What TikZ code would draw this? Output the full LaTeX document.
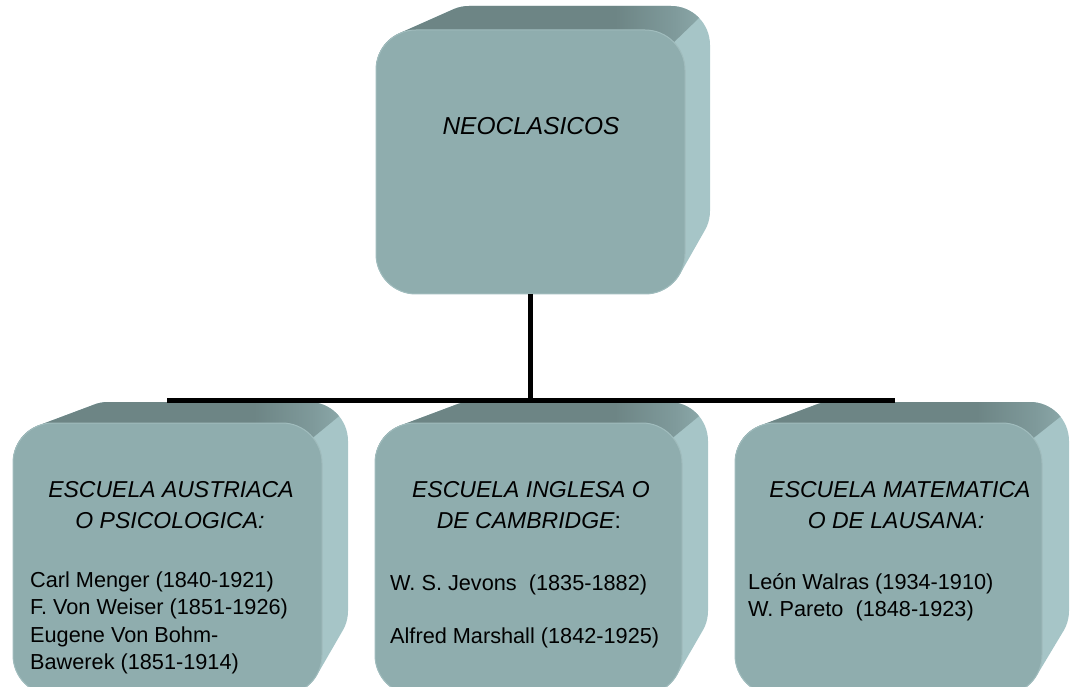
\documentclass[tikz,border=0pt]{standalone}
\usepackage{fontspec}
\setmainfont{Liberation Sans}
\usetikzlibrary{calc}
\definecolor{frontc}{HTML}{8FADAE}
\definecolor{topdark}{HTML}{6D8585}
\definecolor{topmid}{HTML}{7F9A9B}
\definecolor{toplight}{HTML}{9AB8B9}
\definecolor{sidec}{HTML}{A6C5C7}
\definecolor{rimc}{HTML}{A0BCBD}
\pgfdeclarehorizontalshading{topface}{100bp}{color(0bp)=(topdark); color(60bp)=(topdark); color(68bp)=(topmid); color(76bp)=(toplight); color(100bp)=(toplight)}
\tikzset{
  frontbox/.style={rectangle, rounded corners=40pt, fill=frontc, draw=rimc, line width=1pt, inner sep=0pt, outer sep=0pt},
  link/.style={line width=5pt, black},
  bighead/.style={inner sep=0pt, anchor=base, font=\fontsize{24.5}{29}\selectfont\itshape},
  head/.style={inner sep=0pt, anchor=base, font=\fontsize{23}{28}\selectfont\itshape},
  person/.style={inner sep=0pt, anchor=base west, font=\fontsize{21.7}{27}\selectfont},
}
% #1 name, #2-#5 front face (x1,y1,x2,y2), #6-#9 back face (x1,y1,x2,y2)
\newcommand\solidbox[9]{%
  \coordinate (#1-F1) at (#2,#3);
  \coordinate (#1-F2) at (#4,#5);
  \coordinate (#1-B1) at (#6,#7);
  \coordinate (#1-B2) at (#8,#9);
  \coordinate (#1-Cf) at (#4-40,#3+40);
  \coordinate (#1-Cb) at (#8-38,#7+38);
  \coordinate (#1-P) at ($(#1-Cb)!-2!(#1-Cf)$);
  \coordinate (#1-T) at (0,#7-20);
  \begin{scope}
    \clip[rounded corners=39pt] \foreach \i in {0,...,24} {($(#1-B1)!\i/24!(#1-F1)$) rectangle ($(#1-B2)!\i/24!(#1-F2)$)};
    \fill[sidec] (#2-20,#7-20) rectangle (#8+20,#5+20);
    \shade[shading=topface] (#2-20,#7-20) -- (#2-20,#3+40) -- (#1-Cf) -- (#1-P) -- (#1-P |- #1-T) -- cycle;
  \end{scope}
  \node[frontbox, minimum width={(#4-#2)*1pt}, minimum height={(#5-#3)*1pt}] (#1) at ({(#2+#4)/2},{(#3+#5)/2}) {};
}
\begin{document}
\begin{tikzpicture}[x=1pt,y=-1pt]
\useasboundingbox (0,0) rectangle (1077,687);
\clip (0,0) rectangle (1077,687);

\solidbox{neo}{376}{30}{685}{294}{430}{6}{710}{250}
\solidbox{aus}{13}{423}{322}{695}{69}{402}{348}{650}
\solidbox{ing}{375}{423}{682}{695}{431}{402}{708}{650}
\solidbox{mat}{735}{423}{1042}{695}{791}{402}{1069}{650}

% connectors
\coordinate (hl) at (167,400.5);
\coordinate (hr) at (895,400.5);
\draw[link] (neo.south) -- (neo.south |- hl);
\draw[link] (hl) -- (hr);

% texts
\node[bighead] (neotxt) at (531,135) {NEOCLASICOS};

\node[head] (aush1) at (171,497) {ESCUELA AUSTRIACA};
\node[head] (aush2) at (170,528) {O PSICOLOGICA:};
\node[person] (aus1) at (30,587) {Carl Menger (1840-1921)};
\node[person] (aus2) at (30,614.5) {F. Von Weiser (1851-1926)};
\node[person] (aus3) at (30,642) {Eugene Von Bohm-};
\node[person] (aus4) at (30,669.5) {Bawerek (1851-1914)};

\node[head] (ingh1) at (531,497) {ESCUELA INGLESA O};
\node[head] (ingh2) at (529,528) {DE CAMBRIDGE\textup{:}};
\node[person] (ing1) at (390,590) {W. S. Jevons~~(1835-1882)};
\node[person] (ing2) at (390,643) {Alfred Marshall (1842-1925)};

\node[head] (math1) at (900,497) {ESCUELA MATEMATICA};
\node[head] (math2) at (896,528) {O DE LAUSANA:};
\node[person] (mat1) at (748,589) {León Walras (1934-1910)};
\node[person] (mat2) at (748,616.5) {W. Pareto~~(1848-1923)};
\end{tikzpicture}
\end{document}
